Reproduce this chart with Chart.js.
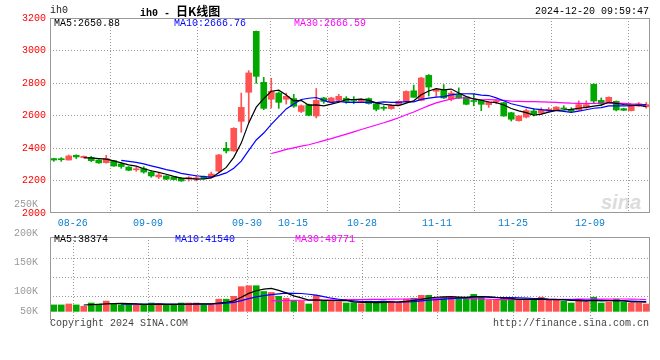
<!DOCTYPE html>
<html>
<head>
<meta charset="utf-8">
<script src="https://cdn.jsdelivr.net/npm/chart.js@4.4.1/dist/chart.umd.min.js"></script>
<style>
    body { margin: 0; background: #fff; }
    #wrap { position: relative; width: 660px; height: 360px; overflow: hidden; font-family: 'Liberation Mono', monospace; font-size: 10px; }
    canvas { position: absolute; left: 0; }
    .t { position: absolute; white-space: pre; line-height: 10px; }
    #logo { left: 601px; top: 191px; font: italic bold 20px 'Liberation Sans', sans-serif; color: #dcdcdc; line-height: 22px; }
</style>
</head>
<body>
<div id="wrap">
    <div class="t" id="logo">sina</div>
    <canvas id="kline" width="660" height="236" style="top:0"></canvas>
    <canvas id="vol" width="660" height="170" style="top:190px"></canvas>

    <div class="t" style="left:50px;top:6px;color:#222">ih0</div>
    <div class="t" style="left:140px;top:5px;color:#000;font-weight:bold;line-height:12px">ih0 - <span style="font-family:'Noto Sans CJK SC';font-size:12px">日K线图</span></div>
    <div class="t" style="left:535px;top:7px;color:#000">2024-12-20 09:59:47</div>

    <div class="t" style="left:54px;top:19px;color:#000">MA5:2650.88</div>
    <div class="t" style="left:174px;top:19px;color:#0000ff">MA10:2666.76</div>
    <div class="t" style="left:294px;top:19px;color:#ff00ff">MA30:2666.59</div>

    <div class="t" style="left:54px;top:235px;color:#000">MA5:38374</div>
    <div class="t" style="left:175px;top:235px;color:#0000ff">MA10:41540</div>
    <div class="t" style="left:295px;top:235px;color:#ff00ff">MA30:49771</div>

    <div class="t" style="left:50px;top:319px;color:#444">Copyright 2024 SINA.COM</div>
    <div class="t" style="right:11px;top:319px;color:#444">http://finance.sina.com.cn</div>
</div>

<script>
// dados diarios (80 pregoes)
const dateLabels = ['08-26', '09-09', '09-30', '10-15', '10-28', '11-11', '11-25', '12-09'];
const dateTickPos = [2.53, 12.57, 25.77, 31.9, 41.1, 51.1, 61.23, 71.5];

const opens = [2335, 2332, 2326, 2355, 2341, 2341, 2326, 2310, 2322, 2302,
    2283, 2266, 2273, 2252, 2222, 2228, 2222, 2215, 2209, 2210,
    2226, 2220, 2258, 2398, 2382, 2564, 2743, 3118, 2804, 2700,
    2738, 2700, 2704, 2625, 2667, 2597, 2708, 2683, 2693, 2706,
    2696, 2687, 2704, 2672, 2648, 2642, 2667, 2688, 2752, 2693,
    2847, 2749, 2755, 2700, 2728, 2714, 2690, 2693, 2667, 2684,
    2679, 2617, 2568, 2590, 2628, 2615, 2626, 2632, 2644, 2638,
    2634, 2650, 2792, 2693, 2677, 2687, 2642, 2630, 2658, 2654];
const highs = [2337, 2341, 2357, 2358, 2351, 2348, 2328, 2355, 2324, 2310,
    2285, 2281, 2285, 2260, 2244, 2230, 2224, 2218, 2224, 2230,
    2228, 2252, 2361, 2435, 2525, 2738, 2876, 3120, 2835, 2829,
    2745, 2738, 2730, 2665, 2670, 2766, 2712, 2712, 2730, 2716,
    2716, 2703, 2708, 2675, 2660, 2667, 2690, 2752, 2787, 2835,
    2852, 2766, 2790, 2750, 2770, 2716, 2730, 2697, 2686, 2697,
    2682, 2620, 2600, 2640, 2642, 2647, 2648, 2655, 2660, 2648,
    2690, 2690, 2795, 2708, 2715, 2690, 2645, 2670, 2680, 2680];
const lows = [2318, 2318, 2326, 2335, 2340, 2316, 2306, 2306, 2287, 2275,
    2260, 2257, 2245, 2220, 2212, 2205, 2203, 2195, 2197, 2197,
    2209, 2218, 2250, 2369, 2380, 2497, 2558, 2798, 2636, 2646,
    2644, 2670, 2650, 2618, 2598, 2585, 2675, 2680, 2685, 2675,
    2673, 2684, 2670, 2628, 2632, 2638, 2664, 2683, 2712, 2690,
    2720, 2716, 2705, 2690, 2705, 2666, 2660, 2630, 2650, 2672,
    2595, 2566, 2565, 2585, 2597, 2605, 2622, 2630, 2638, 2618,
    2632, 2644, 2673, 2660, 2675, 2628, 2630, 2628, 2656, 2645];
const closes = [2326, 2328, 2351, 2345, 2349, 2322, 2308, 2335, 2289, 2286,
    2263, 2271, 2252, 2228, 2234, 2208, 2206, 2197, 2218, 2214,
    2211, 2240, 2357, 2382, 2521, 2650, 2862, 2841, 2644, 2749,
    2681, 2718, 2657, 2660, 2601, 2693, 2687, 2708, 2718, 2687,
    2692, 2700, 2673, 2638, 2644, 2663, 2687, 2748, 2712, 2831,
    2775, 2761, 2708, 2738, 2708, 2669, 2686, 2669, 2683, 2689,
    2597, 2577, 2597, 2630, 2607, 2632, 2638, 2652, 2640, 2626,
    2667, 2667, 2689, 2671, 2712, 2634, 2632, 2667, 2671, 2667];
const volumes = [27300, 27300, 31300, 27300, 21600, 35400, 31300, 43500, 31300, 27300,
    29700, 25600, 31300, 35400, 31300, 25600, 25600, 35400, 35400, 35400,
    27300, 27300, 51700, 51700, 63900, 104600, 108700, 108700, 84200, 80200,
    63900, 55800, 43500, 43500, 31300, 68000, 43500, 43500, 40700, 35400,
    36600, 32600, 43500, 35400, 43500, 43500, 36600, 51700, 55800, 68000,
    68000, 55800, 59800, 59800, 59800, 59800, 72000, 63900, 47600, 47600,
    55800, 55800, 47600, 47600, 47600, 59800, 47600, 47600, 43500, 35400,
    51700, 39500, 59800, 35400, 39500, 51700, 39500, 35400, 35400, 31300];

const priceTicks = [2000, 2200, 2400, 2600, 2800, 3000, 3200];
// eixo do volume da sina: rotulos nao batem com as linhas, igual ao original
const volTickLabels = ['250K', '200K', '150K', '100K', '50K'];
const volTickVals = [451800, 329700, 207600, 85500, 0];
const volGridVals = [227900, 146500, 65100];
const volPanelTop = 313400;

const RED = '#ff5252';
const GREEN = '#00a800';
const GRID = '#999';
const MONO = { family: 'Liberation Mono', size: 10 };

function movingAvg(arr, n) {
    return arr.map((v, i) => {
        if (i < n - 1) return null;
        let s = 0;
        for (let k = i - n + 1; k <= i; k++) s += arr[k];
        return { x: i, y: s / n };
    }).filter(p => p !== null);
}

const candleColor = ctx => closes[ctx.dataIndex] >= opens[ctx.dataIndex] ? RED : GREEN;

function maLine(data, color) {
    return { type: 'line', data: data, borderColor: color, borderWidth: 1.2, pointRadius: 0, tension: 0, order: 0 };
}

function strokeLine(ctx, x1, y1, x2, y2) {
    ctx.beginPath();
    ctx.moveTo(x1, y1);
    ctx.lineTo(x2, y2);
    ctx.stroke();
}

const priceFrame = {
    id: 'priceFrame',
    afterDatasetsDraw(chart) {
        const { ctx, chartArea: a } = chart;
        ctx.save();
        ctx.strokeStyle = '#999';
        ctx.lineWidth = 1;
        ctx.strokeRect(a.left + 0.5, a.top + 0.5, a.right - a.left - 1, a.bottom - a.top - 1);
        ctx.restore();
    }
};

const volFrame = {
    id: 'volFrame',
    beforeDatasetsDraw(chart) {
        const { ctx, chartArea: a, scales: { x, y } } = chart;
        const top = Math.round(y.getPixelForValue(volPanelTop));
        ctx.save();
        ctx.strokeStyle = GRID;
        ctx.lineWidth = 1;
        ctx.setLineDash([1, 2]);
        dateTickPos.forEach(v => {
            const px = Math.round(x.getPixelForValue(v)) + 0.5;
            strokeLine(ctx, px, top, px, a.bottom);
        });
        volGridVals.forEach(v => {
            const py = Math.round(y.getPixelForValue(v)) + 0.5;
            strokeLine(ctx, a.left, py, a.right, py);
        });
        ctx.restore();
    },
    afterDatasetsDraw(chart) {
        const { ctx, chartArea: a, scales: { y } } = chart;
        const top = Math.round(y.getPixelForValue(volPanelTop)) + 0.5;
        const base = Math.round(y.getPixelForValue(0));
        ctx.save();
        ctx.strokeStyle = '#999';
        ctx.lineWidth = 1;
        strokeLine(ctx, a.left, top, a.right, top);
        strokeLine(ctx, a.left + 0.5, top, a.left + 0.5, a.bottom);
        strokeLine(ctx, a.right - 0.5, top, a.right - 0.5, base);
        ctx.restore();
    }
};

const xCommon = {
    type: 'linear',
    min: -0.5,
    max: 79.5,
    offset: false,
    afterBuildTicks: s => { s.ticks = dateTickPos.map(v => ({ value: v })); }
};

// grafico de velas
new Chart(document.getElementById('kline'), {
    type: 'bar',
    data: {
        datasets: [
            maLine(movingAvg(closes, 5), '#000000'),
            maLine(movingAvg(closes, 10), '#0000ff'),
            maLine(movingAvg(closes, 30), '#ff00ff'),
            {
                data: opens.map((o, i) => ({ x: i, y: [o, closes[i]] })),
                backgroundColor: candleColor,
                barThickness: 6,
                minBarLength: 1,
                grouped: false,
                order: 1
            },
            {
                data: lows.map((l, i) => ({ x: i, y: [l, highs[i]] })),
                backgroundColor: candleColor,
                barThickness: 1,
                grouped: false,
                order: 2
            }
        ]
    },
    options: {
        responsive: false,
        animation: false,
        events: [],
        layout: { padding: { top: 18, right: 10, left: 0, bottom: 0 } },
        plugins: { legend: { display: false }, tooltip: { enabled: false } },
        scales: {
            x: Object.assign({}, xCommon, {
                afterFit: s => { s.height = 23; },
                ticks: {
                    callback: (v, i) => dateLabels[i],
                    color: '#0a7fd0',
                    font: MONO,
                    padding: 4,
                    maxRotation: 0,
                    autoSkip: false
                },
                grid: { color: GRID, drawTicks: false },
                border: { display: false, dash: [1, 2] }
            }),
            y: {
                min: 2000,
                max: 3200,
                afterBuildTicks: s => { s.ticks = priceTicks.map(v => ({ value: v })); },
                afterFit: s => { s.width = 50; },
                ticks: { color: '#ff0000', font: MONO, padding: 4, callback: v => String(v) },
                grid: {
                    color: c => (c.tick && (c.tick.value === 2000 || c.tick.value === 3200)) ? 'rgba(0,0,0,0)' : GRID,
                    drawTicks: false
                },
                border: { display: false, dash: [1, 2] }
            }
        }
    },
    plugins: [priceFrame]
});

// grafico de volume
new Chart(document.getElementById('vol'), {
    type: 'bar',
    data: {
        datasets: [
            maLine(movingAvg(volumes, 5), '#000000'),
            maLine(movingAvg(volumes, 10), '#0000ff'),
            maLine(movingAvg(volumes, 30), '#ff00ff'),
            {
                data: volumes.map((v, i) => ({ x: i, y: v })),
                backgroundColor: candleColor,
                barThickness: 6,
                grouped: false,
                order: 1
            }
        ]
    },
    options: {
        responsive: false,
        animation: false,
        events: [],
        layout: { padding: { top: 5, right: 10, left: 0, bottom: 0 } },
        plugins: { legend: { display: false }, tooltip: { enabled: false } },
        scales: {
            x: Object.assign({}, xCommon, {
                afterFit: s => { s.height = 40; },
                ticks: { display: false },
                grid: { display: false },
                border: { display: false }
            }),
            y: {
                min: -36600,
                max: 472100,
                afterBuildTicks: s => { s.ticks = volTickVals.map(v => ({ value: v })); },
                afterFit: s => { s.width = 50; },
                ticks: { color: '#999', font: MONO, padding: 4, callback: (v, i) => volTickLabels[i] },
                grid: { display: false },
                border: { display: false }
            }
        }
    },
    plugins: [volFrame]
});
</script>
</body>
</html>
